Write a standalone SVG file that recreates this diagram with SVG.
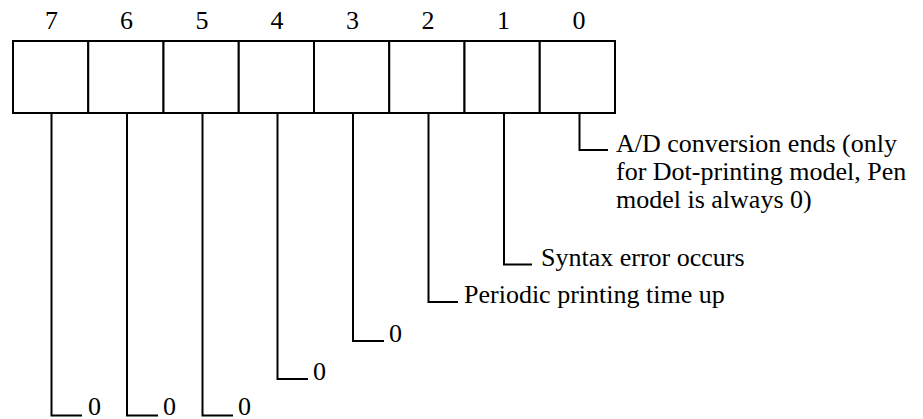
<svg xmlns="http://www.w3.org/2000/svg" width="923" height="419" viewBox="0 0 923 419">
  <style>
    .cell { fill: #fff; stroke: #000; stroke-width: 2; }
    .lead { fill: none; stroke: #000; stroke-width: 2; }
    text { font-family: "Liberation Serif", "Times New Roman", serif; font-size: 26px; fill: #000; }
    .num { text-anchor: middle; }
  </style>
  <rect width="923" height="419" fill="#fff"/>

  <!-- register bits, MSB on the left -->
  <g id="bit7"><rect class="cell" x="13" y="41" width="75.25" height="72"/><text class="num" x="51.5" y="29">7</text></g>
  <g id="bit6"><rect class="cell" x="88.25" y="41" width="75.25" height="72"/><text class="num" x="126.5" y="29">6</text></g>
  <g id="bit5"><rect class="cell" x="163.5" y="41" width="75.25" height="72"/><text class="num" x="202" y="29">5</text></g>
  <g id="bit4"><rect class="cell" x="238.75" y="41" width="75.25" height="72"/><text class="num" x="277" y="29">4</text></g>
  <g id="bit3"><rect class="cell" x="314" y="41" width="75.25" height="72"/><text class="num" x="352.5" y="29">3</text></g>
  <g id="bit2"><rect class="cell" x="389.25" y="41" width="75.25" height="72"/><text class="num" x="428" y="29">2</text></g>
  <g id="bit1"><rect class="cell" x="464.5" y="41" width="75.25" height="72"/><text class="num" x="503.5" y="29">1</text></g>
  <g id="bit0"><rect class="cell" x="539.75" y="41" width="75.25" height="72"/><text class="num" x="579" y="29">0</text></g>

  <!-- leader lines from each bit to its description -->
  <g id="connectors">
    <polyline class="lead" points="579.5,113 579.5,150 608,150"/>
    <polyline class="lead" points="504,113 504,264.5 532,264.5"/>
    <polyline class="lead" points="428.5,113 428.5,302 458,302"/>
    <polyline class="lead" points="353,113 353,341 384,341"/>
    <polyline class="lead" points="277.5,113 277.5,379 308,379"/>
    <polyline class="lead" points="202.5,113 202.5,415.5 233,415.5"/>
    <polyline class="lead" points="127,113 127,415.5 158,415.5"/>
    <polyline class="lead" points="51.5,113 51.5,415.5 82,415.5"/>
  </g>

  <!-- bit descriptions -->
  <g id="desc0">
    <text x="616" y="152">A/D conversion ends (only</text>
    <text x="616" y="180">for Dot-printing model, Pen</text>
    <text x="616" y="208">model is always 0)</text>
  </g>
  <g id="desc1"><text x="541" y="266">Syntax error occurs</text></g>
  <g id="desc2"><text x="464" y="303">Periodic printing time up</text></g>
  <g id="desc3"><text x="389" y="342">0</text></g>
  <g id="desc4"><text x="313" y="380">0</text></g>
  <g id="desc5"><text x="238" y="415">0</text></g>
  <g id="desc6"><text x="163" y="415">0</text></g>
  <g id="desc7"><text x="88" y="415">0</text></g>
</svg>
